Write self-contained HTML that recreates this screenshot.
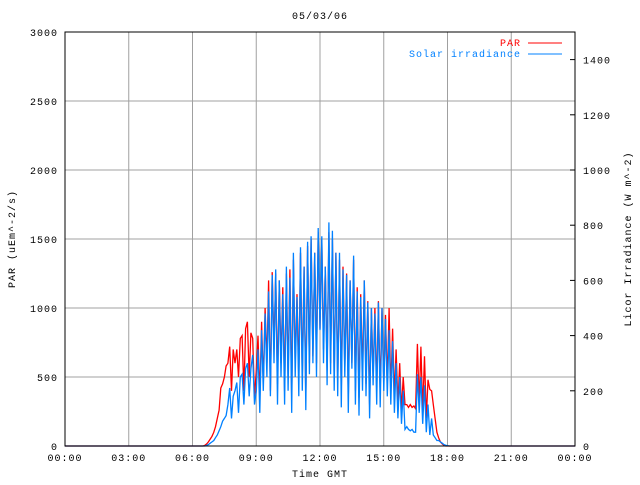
<!DOCTYPE html>
<html><head><meta charset="utf-8"><style>
body{margin:0;background:#fff}
svg text{font-family:"Liberation Mono","DejaVu Sans Mono",monospace;font-size:10px;letter-spacing:1px}
</style></head><body>
<svg id="c" width="640" height="480">
<rect width="640" height="480" fill="#fff"/>
<g id="grid"></g>
<g id="series"></g>
<rect x="65" y="32" width="510" height="414" fill="none" stroke="#000" stroke-width="1"/>
<g id="labels"></g>
<text x="320" y="19" text-anchor="middle">05/03/06</text>
<text x="320" y="477" text-anchor="middle">Time GMT</text>
<text transform="translate(15,239) rotate(-90)" text-anchor="middle">PAR (uEm^-2/s)</text>
<text transform="translate(631,239) rotate(-90)" text-anchor="middle">Licor Irradiance (W m^-2)</text>
<g>
<text x="521" y="46" text-anchor="end" fill="#ff0000">PAR</text>
<line x1="528" y1="43" x2="562" y2="43" stroke="#ff0000"/>
<text x="521" y="57" text-anchor="end" fill="#0080ff">Solar irradiance</text>
<line x1="528" y1="54" x2="562" y2="54" stroke="#0080ff"/>
</g>
</svg>
<script>
const xTickLabels=["00:00","03:00","06:00","09:00","12:00","15:00","18:00","21:00","00:00"];
const leftTicks=[0,500,1000,1500,2000,2500,3000];
const rightTicks=[0,200,400,600,800,1000,1200,1400];
const startHour=6, stepMin=5;
const par=[0,0,0,0,0,0,0,
5,15,30,50,70,100,
140,200,260,420,450,500,
580,600,720,400,700,600,
700,500,780,800,400,850,
900,500,820,780,350,550,
800,350,900,450,1000,600,
1200,400,1260,700,1250,450,
1200,600,1150,400,1250,500,
1280,350,1350,600,1100,500,
1400,500,1300,350,1450,600,
1500,650,1400,600,1550,850,
1500,700,1300,550,1550,600,
1500,500,1400,450,1350,400,
1300,550,1250,350,1200,600,
1350,400,1150,350,1100,500,
1200,450,1050,300,1000,500,
1000,400,1050,400,1000,450,
950,450,1000,400,850,350,
700,300,600,250,500,300,
300,280,300,280,290,270,
740,300,720,250,650,200,
480,410,400,300,200,100,
60,30,15,5,0,0,
0,0,0,0,0,0];
const solar=[0,0,0,0,0,0,0,
0,2,5,10,15,20,
30,40,55,70,90,100,
110,150,210,100,180,200,
230,120,250,260,150,280,
300,180,280,330,150,200,
350,120,420,200,480,250,
560,180,620,300,640,150,
600,250,550,150,650,200,
610,120,700,250,540,180,
720,200,650,130,740,260,
760,300,700,250,790,420,
760,300,650,220,810,260,
780,200,700,180,700,140,
640,250,620,120,600,280,
690,150,560,110,540,200,
600,180,520,100,500,220,
480,150,520,140,500,200,
460,180,420,150,380,120,
300,100,250,80,200,60,
70,60,55,60,50,50,
260,120,250,80,220,50,
150,40,100,40,30,20,
20,15,10,5,3,1,
0,0,0,0,0,0];
const NS="http://www.w3.org/2000/svg";
const X0=65,X1=575,Y0=446,Y1=32;
const xOf=h=>X0+(X1-X0)*h/24;
const yL=v=>Y0-(Y0-Y1)*v/3000;
const yR=v=>Y0-(Y0-Y1)*v/1500;
function mk(tag,parent,attrs){const e=document.createElementNS(NS,tag);for(const k in attrs)e.setAttribute(k,attrs[k]);parent.appendChild(e);return e;}
const grid=document.getElementById('grid'),labels=document.getElementById('labels'),series=document.getElementById('series');
xTickLabels.forEach((t,i)=>{const x=xOf(i*3);
 if(i>0&&i<8){const l=mk('line',grid,{x1:x,x2:x,y1:Y1,y2:Y0,stroke:'#a0a0a0'});
 
 }
 const tx=mk('text',labels,{x:x,y:461,'text-anchor':'middle'});tx.textContent=t;
 
 
});
leftTicks.forEach(v=>{const y=yL(v);
 if(v>0&&v<3000){const l=mk('line',grid,{x1:X0,x2:X1,y1:y,y2:y,stroke:'#a0a0a0'});
 
 }
 const tx=mk('text',labels,{x:58,y:y+4,'text-anchor':'end'});tx.textContent=v;
 
 
});
rightTicks.forEach(v=>{const y=yR(v);
 const tk=mk('line',labels,{x1:X1-5,x2:X1,y1:y,y2:y,stroke:'#000'});
 
 
 const tx=mk('text',labels,{x:583,y:y+4,'text-anchor':'start'});tx.textContent=v;
 
 
});
function pts(arr,yf){let p=[[X0,Y0],[xOf(startHour),Y0]];arr.forEach((v,i)=>p.push([xOf(startHour+i*stepMin/60),yf(v)]));p.push([X1,Y0]);return p.map(q=>q[0].toFixed(1)+','+q[1].toFixed(1)).join(' ');}
const pl=mk('polyline',series,{points:pts(par,yL),fill:'none',stroke:'#ff0000','stroke-width':1.3});


const sl=mk('polyline',series,{points:pts(solar,yR),fill:'none',stroke:'#0080ff','stroke-width':1.3});


</script>
</body></html>
